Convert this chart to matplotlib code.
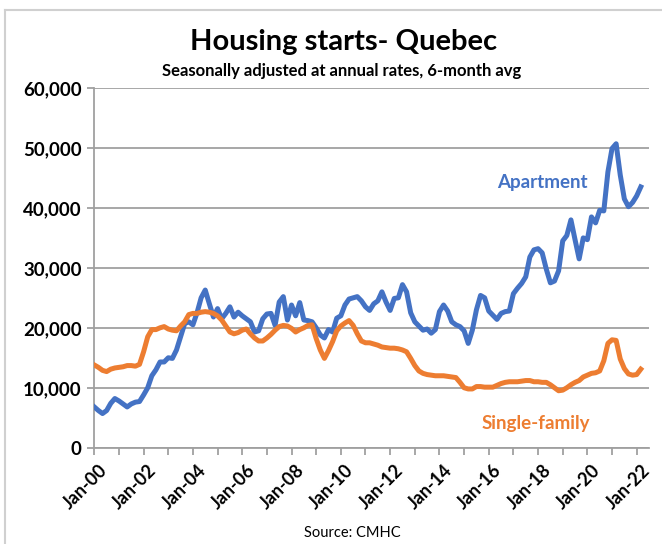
import matplotlib
matplotlib.use("Agg")
import matplotlib.pyplot as plt
import numpy as np

plt.rcParams["font.family"] = ["Lato", "DejaVu Sans"]

# bi-monthly readings, month index 0 = Jan-2000
MONTHS = list(range(0, 268, 2))

APARTMENT = [
    6800, 6200, 5700, 6200, 7400, 8200, 7800, 7300, 6800, 7300,
    7600, 7700, 8800, 10000, 12000, 13000, 14300, 14300, 15000, 14900,
    16300, 18500, 20700, 21000, 20500, 22500, 25000, 26300, 24000, 21800,
    23200, 21500, 22400, 23500, 21800, 22600, 22000, 21500, 21000, 19300,
    19500, 21500, 22300, 22400, 20400, 24300, 25200, 21300, 23800, 22000,
    24200, 21300, 21200, 21000, 20000, 18800, 18300, 19700, 19300, 21600,
    22000, 23800, 24800, 25000, 25200, 24500, 23500, 22900, 24000, 24500,
    26000, 24300, 22900, 24900, 25000, 27200, 26000, 22500, 21000, 20300,
    19600, 19800, 19100, 19700, 22700, 23800, 22800, 21000, 20500, 20200,
    19500, 17400, 19600, 23000, 25400, 25000, 22800, 22100, 21400, 22400,
    22700, 22800, 25700, 26600, 27400, 28500, 31800, 33000, 33200, 32500,
    29800, 27500, 27800, 29500, 34500, 35400, 38000, 34700, 31500, 35000,
    34700, 38500, 37500, 39600, 39500, 46000, 49900, 50700, 45500, 41500,
    40200, 40900, 42000, 43500,
]

SINGLE_FAMILY = [
    13800, 13400, 12900, 12700, 13100, 13300, 13400, 13500, 13700, 13700,
    13600, 13900, 16000, 18500, 19700, 19700, 20000, 20200, 19800, 19600,
    19500, 20300, 21000, 22200, 22400, 22400, 22600, 22700, 22600, 22400,
    22000, 21300, 20300, 19300, 19000, 19200, 19600, 19800, 19000, 18300,
    17800, 17800, 18300, 18900, 19600, 20200, 20400, 20300, 19900, 19300,
    19700, 20000, 20400, 20500, 18200, 16300, 14900, 16200, 17700, 19500,
    20300, 20800, 21200, 20400, 19000, 17800, 17500, 17500, 17300, 17100,
    16800, 16700, 16600, 16600, 16500, 16300, 16000, 14900, 13700, 12800,
    12400, 12200, 12100, 12000, 12000, 12000, 11900, 11800, 11700, 10900,
    10000, 9800, 9800, 10200, 10200, 10100, 10100, 10100, 10400, 10700,
    10900, 11000, 11000, 11000, 11100, 11200, 11200, 11000, 11000, 10900,
    10900, 10500, 10000, 9500, 9600, 10000, 10500, 10900, 11200, 11800,
    12100, 12400, 12500, 12800, 14500, 17400, 18000, 17900, 14800, 13200,
    12300, 12100, 12200, 13100,
]

TICK_MONTHS = list(range(0, 265, 12))
LABEL_MONTHS = list(range(0, 265, 24))
TICK_LABELS = [f"Jan-{y:02d}" for y in range(0, 23, 2)]
Y_TICKS = [0, 10000, 20000, 30000, 40000, 50000, 60000]

C_APT = "#4472C4"
C_SF = "#ED7D31"
C_GRID = "#A0A0A0"

fig = plt.figure(figsize=(6.62, 5.44), dpi=100)
ax = fig.add_axes([94.3 / 662, 1 - 447.7 / 544, (649 - 94.3) / 662, (447.7 - 88) / 544])

ax.plot(MONTHS, APARTMENT, color=C_APT, lw=3.6, solid_joinstyle="round", zorder=3)
ax.plot(MONTHS, SINGLE_FAMILY, color=C_SF, lw=3.6, solid_joinstyle="round", zorder=3)

ax.set_xlim(0, 270)
ax.set_ylim(0, 60000)
ax.set_yticks(Y_TICKS)
ax.set_yticklabels([f"{v:,}" for v in Y_TICKS], fontsize=13.5, fontweight="bold")
ax.yaxis.grid(True, color=C_GRID, lw=1.3)
ax.set_axisbelow(True)

ax.set_xticks(TICK_MONTHS)
ax.set_xticklabels([])
for m, lab in zip(LABEL_MONTHS, TICK_LABELS):
    ax.annotate(lab, xy=(m, 0), xycoords=("data", "axes fraction"),
                xytext=(3, -10), textcoords="offset points",
                rotation=45, ha="right", va="top", rotation_mode="anchor",
                fontsize=13, fontweight="bold")

for side in ["top", "right"]:
    ax.spines[side].set_visible(False)
for side in ["left", "bottom"]:
    ax.spines[side].set_color(C_GRID)
    ax.spines[side].set_linewidth(1.3)
ax.tick_params(axis="both", color=C_GRID, width=1.3, length=5, direction="out")
ax.tick_params(axis="y", pad=4)

ax.text(218, 44300, "Apartment", color=C_APT, fontsize=13.5,
        fontweight="bold", ha="center", va="center")
ax.text(215, 4100, "Single-family", color=C_SF, fontsize=13.5,
        fontweight="bold", ha="center", va="center")

fig.text(344 / 662, 1 - 42 / 544, "Housing starts- Quebec", fontsize=21,
         fontweight="bold", ha="center", va="center")
fig.text(342 / 662, 1 - 71 / 544, "Seasonally adjusted at annual rates, 6-month avg",
         fontsize=12, fontweight="bold", ha="center", va="center")
fig.text(352 / 662, 1 - 533 / 544, "Source: CMHC", fontsize=10.5,
         ha="center", va="center")

# chart-area frame (only the top and left edges fall inside the image)
fig.add_artist(plt.Line2D([5 / 662, 1], [1 - 10 / 544] * 2, color="#D0D0D0", lw=1.5))
fig.add_artist(plt.Line2D([5 / 662] * 2, [0, 1 - 10 / 544], color="#D0D0D0", lw=1.5))

fig.savefig("out.png", dpi=100)
